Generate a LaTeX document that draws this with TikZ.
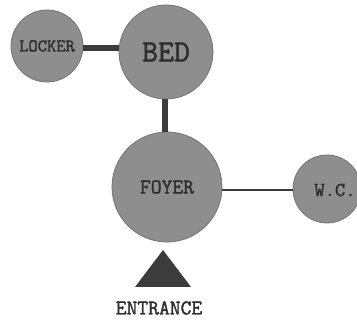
\documentclass[tikz,border=0pt]{standalone}
\usepackage{fontspec}
\newfontfamily\slabfont{Latin Modern Mono}[FakeBold=1.6]
\definecolor{roomfill}{HTML}{8E8E8E}
\definecolor{roomedge}{HTML}{747474}
\definecolor{linkcol}{HTML}{3C3C3C}
\definecolor{txtcol}{HTML}{2E2E2E}
\tikzset{
  room/.style={circle, fill=roomfill, draw=roomedge, line width=0.8pt, inner sep=0pt, text=txtcol, font=\slabfont},
  label text/.style={text=txtcol, font=\slabfont},
  thicklink/.style={draw=linkcol, line width=6.5pt},
  thinlink/.style={draw=linkcol, line width=2.5pt},
}
\begin{document}
\begin{tikzpicture}[x=1pt,y=-1pt]
\useasboundingbox (0,0) rectangle (357,320);
\clip (0,0) rectangle (357,320);
\node[room, minimum size=72pt] (locker) at (47,46) {\fontsize{18}{18}\selectfont LOCKER};
\node[room, minimum size=94pt] (bed) at (166,52) {\fontsize{31}{31}\selectfont BED};
\node[room, minimum size=110pt] (foyer) at (167,187) {\fontsize{21}{21}\selectfont FOYER};
\node[room, minimum size=68pt] (wc) at (327,189) {};
\node[label text] (wctext) at (335,190) {\fontsize{20}{20}\selectfont W.C.};
\draw[thicklink] (locker.east |- 0,48) -- (bed.west |- 0,48);
\draw[thicklink] (bed.south -| 165,0) -- (foyer.north -| 165,0);
\draw[thinlink] (foyer.east |- 0,190) -- (wc.west |- 0,190);
\coordinate (apex) at (163,250);
\coordinate (baseL) at (135,287);
\coordinate (baseR) at (191,287);
\fill[linkcol] (baseL) -- (apex) -- (baseR) -- cycle;
\node[label text] (entrance) at (159,308) {\fontsize{21}{21}\selectfont ENTRANCE};
\end{tikzpicture}
\end{document}
